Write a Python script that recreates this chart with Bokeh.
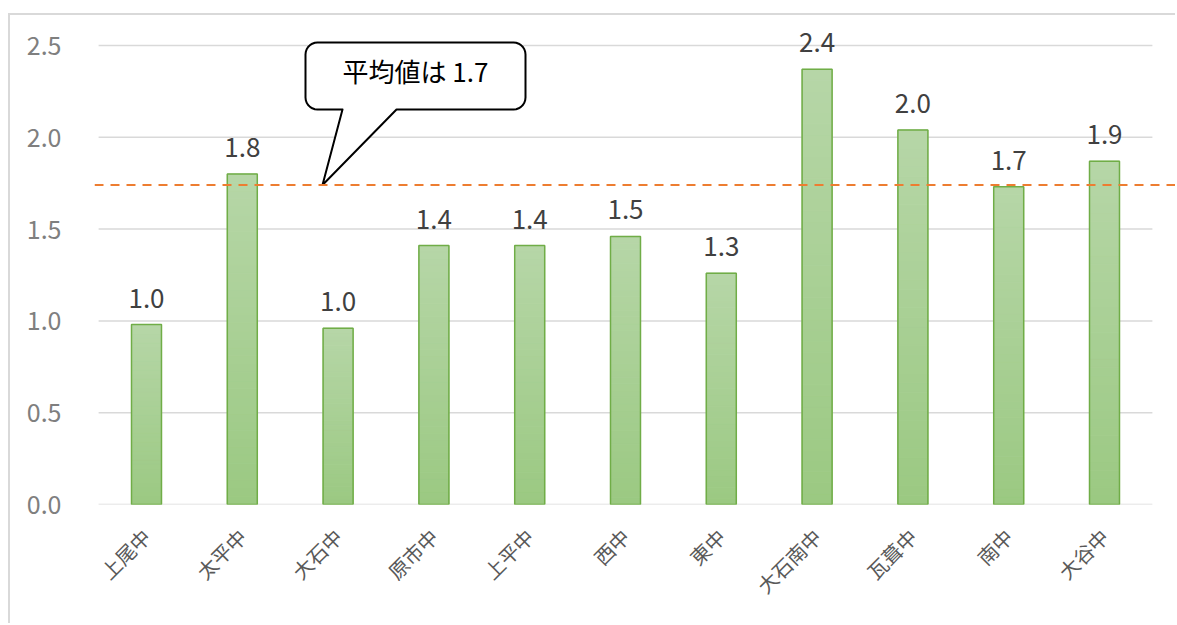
import numpy as np
from bokeh.plotting import figure
from bokeh.models import Range1d, FixedTicker, Span, ColumnDataSource, LabelSet, NumeralTickFormatter
from bokeh.core.properties import value
from bokeh.embed import file_html
from bokeh.resources import INLINE

# ---- data ----
categories = ["上尾中", "太平中", "大石中", "原市中", "上平中", "西中", "東中",
              "大石南中", "瓦葺中", "南中", "大谷中"]
values = [0.98, 1.80, 0.96, 1.41, 1.41, 1.46, 1.26, 2.37, 2.04, 1.73, 1.87]
average = 1.74
average_label = "平均値は 1.7"
y_ticks = [0.0, 0.5, 1.0, 1.5, 2.0, 2.5]

FONT = "Noto Sans CJK JP"

# ---- layout helpers (page pixel -> data) ----
PX_PER_X = 95.8
X0_PAGE = 98.1      # page x of data x=-0.5
PX_PER_Y = 183.6
Y0_PAGE = 504.0     # page y of data y=0


def px2x(px):
    return -0.5 + (px - X0_PAGE) / PX_PER_X


def py2y(py):
    return (Y0_PAGE - py) / PX_PER_Y


p = figure(width=1167, height=610, output_backend="svg", toolbar_location=None,
           x_range=Range1d(px2x(94), px2x(1177)), y_range=Range1d(0, py2y(30)),
           min_border_left=84, min_border_right=0, min_border_top=15, min_border_bottom=121)
p.styles = {"margin-left": "8px", "margin-top": "13px",
            "border-top": "2px solid #d9d9d9", "border-left": "2px solid #d9d9d9"}
p.outline_line_color = None
p.xgrid.visible = False
p.ygrid.visible = False

# gridlines
n = len(categories)
p.segment(x0=[-0.5] * len(y_ticks), x1=[n - 0.5] * len(y_ticks), y0=y_ticks, y1=y_ticks,
          line_color="#d9d9d9", line_width=1.5)

# axes
xs = list(range(n))
p.xaxis.ticker = FixedTicker(ticks=xs)
p.xaxis.major_label_overrides = {i: c for i, c in enumerate(categories)}
p.xaxis.major_label_orientation = np.pi / 4
p.xaxis.major_label_text_font = FONT
p.xaxis.major_label_text_font_size = "20px"
p.xaxis.major_label_text_color = "#595959"
p.xaxis.major_label_standoff = 22
p.yaxis.ticker = FixedTicker(ticks=y_ticks)
p.yaxis.formatter = NumeralTickFormatter(format="0.0")
p.yaxis.major_label_text_font = FONT
p.yaxis.major_label_text_font_size = "25px"
p.yaxis.major_label_text_color = "#7f7f7f"
p.yaxis.major_label_standoff = 27
for ax in (p.xaxis, p.yaxis):
    ax.axis_line_color = None
    ax.major_tick_line_color = None
    ax.minor_tick_line_color = None

# bars with vertical gradient
bw = 0.313
N = 40
top_c = np.array([0xb6, 0xd6, 0xa7])
bot_c = np.array([0x9b, 0xc9, 0x82])
ql, qr, qb, qt, qc = [], [], [], [], []
for i, v in enumerate(values):
    for k in range(N):
        f = (k + 0.5) / N
        c = bot_c + (top_c - bot_c) * f
        ql.append(i - bw / 2)
        qr.append(i + bw / 2)
        qb.append(v * k / N)
        qt.append(v * (k + 1) / N)
        qc.append("#%02x%02x%02x" % tuple(int(round(t)) for t in c))
p.quad(left=ql, right=qr, bottom=qb, top=qt, fill_color=qc, line_color=qc, line_width=1)
p.quad(left=[i - bw / 2 for i in xs], right=[i + bw / 2 for i in xs],
       bottom=0, top=values, fill_color=None, line_color="#70ad47", line_width=1.5)

# data labels
src = ColumnDataSource(dict(x=xs, y=values, t=["%.1f" % v for v in values]))
p.add_layout(LabelSet(x="x", y="y", text="t", source=src, y_offset=17,
                      text_align="center", text_baseline="alphabetic",
                      text_font=value(FONT), text_font_size="26px", text_color="#404040"))

# average line
p.add_layout(Span(location=average, dimension="width", line_color="#ed7d31",
                  line_width=2, line_dash="9 7"))

# callout
L, R, T, B, r = 305, 525, 42, 109, 12
tip_px = 322
tip_py = Y0_PAGE - average * PX_PER_Y
pts = []


def arc(cx, cy, a0, a1):
    for a in np.linspace(np.radians(a0), np.radians(a1), 8):
        pts.append((cx + r * np.cos(a), cy + r * np.sin(a)))


arc(R - r, T + r, -90, 0)
arc(R - r, B - r, 0, 90)
pts += [(396, B), (tip_px, tip_py), (342, B)]
arc(L + r, B - r, 90, 180)
arc(L + r, T + r, 180, 270)
p.patch(x=[px2x(a) for a, b in pts], y=[py2y(b) for a, b in pts],
        fill_color="white", line_color="black", line_width=2, line_join="round")
p.text(x=[px2x((L + R) / 2)], y=[py2y(70)], text=[average_label],
       text_align="center", text_baseline="middle", text_font=value(FONT),
       text_font_size="26px", text_color="black")

open("out.html", "w").write(file_html(p, INLINE))
